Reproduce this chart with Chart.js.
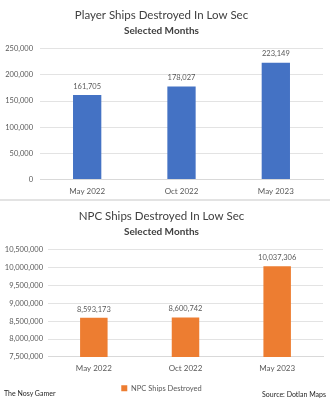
<!DOCTYPE html>
<html><head><meta charset="utf-8">
<script src="https://cdn.jsdelivr.net/npm/chart.js@4"></script>
<style>
html,body{margin:0;padding:0;background:#fff;}
#wrap{position:relative;width:330px;height:400px;overflow:hidden;font-family:Lato,"Open Sans",sans-serif;}
#c1box{position:absolute;left:0;top:0;width:330px;height:199px;}
#sep{position:absolute;left:0;top:199px;width:330px;height:2px;background:#e3e3e3;}
#c2box{position:absolute;left:0;top:201px;width:330px;height:199px;}
.foot{position:absolute;font-size:7px;color:#262626;}
</style></head>
<body><div id="wrap">
<div id="c1box"><canvas id="c1"></canvas></div>
<div id="sep"></div>
<div id="c2box"><canvas id="c2"></canvas></div>
<div class="foot" style="left:4px;top:389px;">The Nosy Gamer</div>
<div class="foot" style="right:4px;top:390px;">Source: Dotlan Maps</div>
</div>
<script>
const categories = ["May 2022", "Oct 2022", "May 2023"];
const playerShips = [161705, 178027, 223149];
const npcShips = [8593173, 8600742, 10037306];
const playerTicks = [0, 50000, 100000, 150000, 200000, 250000];
const npcTicks = [7500000, 8000000, 8500000, 9000000, 9500000, 10000000, 10500000];

const FONT = 'Lato, "Open Sans", sans-serif';
const GREY = '#595959';
const fmt = v => Number(v).toLocaleString('en-US');

const valueLabels = {
  id: 'valueLabels',
  afterDatasetsDraw(chart) {
    const ctx = chart.ctx;
    ctx.save();
    ctx.font = '7.5px ' + FONT;
    ctx.fillStyle = GREY;
    ctx.textAlign = 'center';
    ctx.textBaseline = 'bottom';
    chart.data.datasets.forEach((ds, i) => {
      chart.getDatasetMeta(i).data.forEach((bar, j) => {
        ctx.fillText(fmt(ds.data[j]), bar.x, bar.y - 5);
      });
    });
    ctx.restore();
  }
};

function makeChart(id, title, label, data, ticks, color, yWidth, yPad, showLegend, padBottom, subPad, xPad, legPad) {
  return new Chart(document.getElementById(id), {
    type: 'bar',
    data: { labels: categories, datasets: [{ label: label, data: data, backgroundColor: color,
      borderColor: color, borderWidth: 0, categoryPercentage: 1, barPercentage: 0.3 }] },
    options: {
      responsive: true, maintainAspectRatio: false, animation: false,
      layout: { padding: { left: 0, right: 7, top: 0, bottom: padBottom } },
      plugins: {
        title: { display: true, text: title,
          color: '#404040', font: { family: FONT, size: 11.5, weight: 'normal' }, padding: { top: 8, bottom: 3 } },
        subtitle: { display: true, text: 'Selected Months', color: '#404040',
          font: { family: FONT, size: 10, weight: 'bold' }, padding: { top: 0, bottom: subPad } },
        legend: { display: showLegend, position: 'bottom',
          labels: { boxWidth: 6, boxHeight: 6, color: GREY, font: { family: FONT, size: 7.5 }, padding: legPad } },
        tooltip: { enabled: false }
      },
      scales: {
        x: { grid: { display: false, drawTicks: false }, border: { color: '#d9d9d9' },
          ticks: { color: GREY, font: { family: FONT, size: 8 }, padding: xPad } },
        y: { min: ticks[0], max: ticks[ticks.length - 1],
          afterBuildTicks: s => { s.ticks = ticks.map(v => ({ value: v })); },
          afterFit: s => { s.width = yWidth; },
          grid: { color: '#e3e3e3', drawTicks: false }, border: { display: false },
          ticks: { color: GREY, font: { family: FONT, size: 7.5 }, padding: yPad, callback: v => fmt(v) } }
      }
    },
    plugins: [valueLabels]
  });
}

makeChart('c1', 'Player Ships Destroyed In Low Sec', 'Player Ships Destroyed', playerShips, playerTicks, '#4472C4', 40, 7, false, -4, 12, 7, 6);
makeChart('c2', 'NPC Ships Destroyed In Low Sec', 'NPC Ships Destroyed', npcShips, npcTicks, '#ED7D31', 48, 5, true, -2, 12, 7, 4);
</script>
</body></html>
